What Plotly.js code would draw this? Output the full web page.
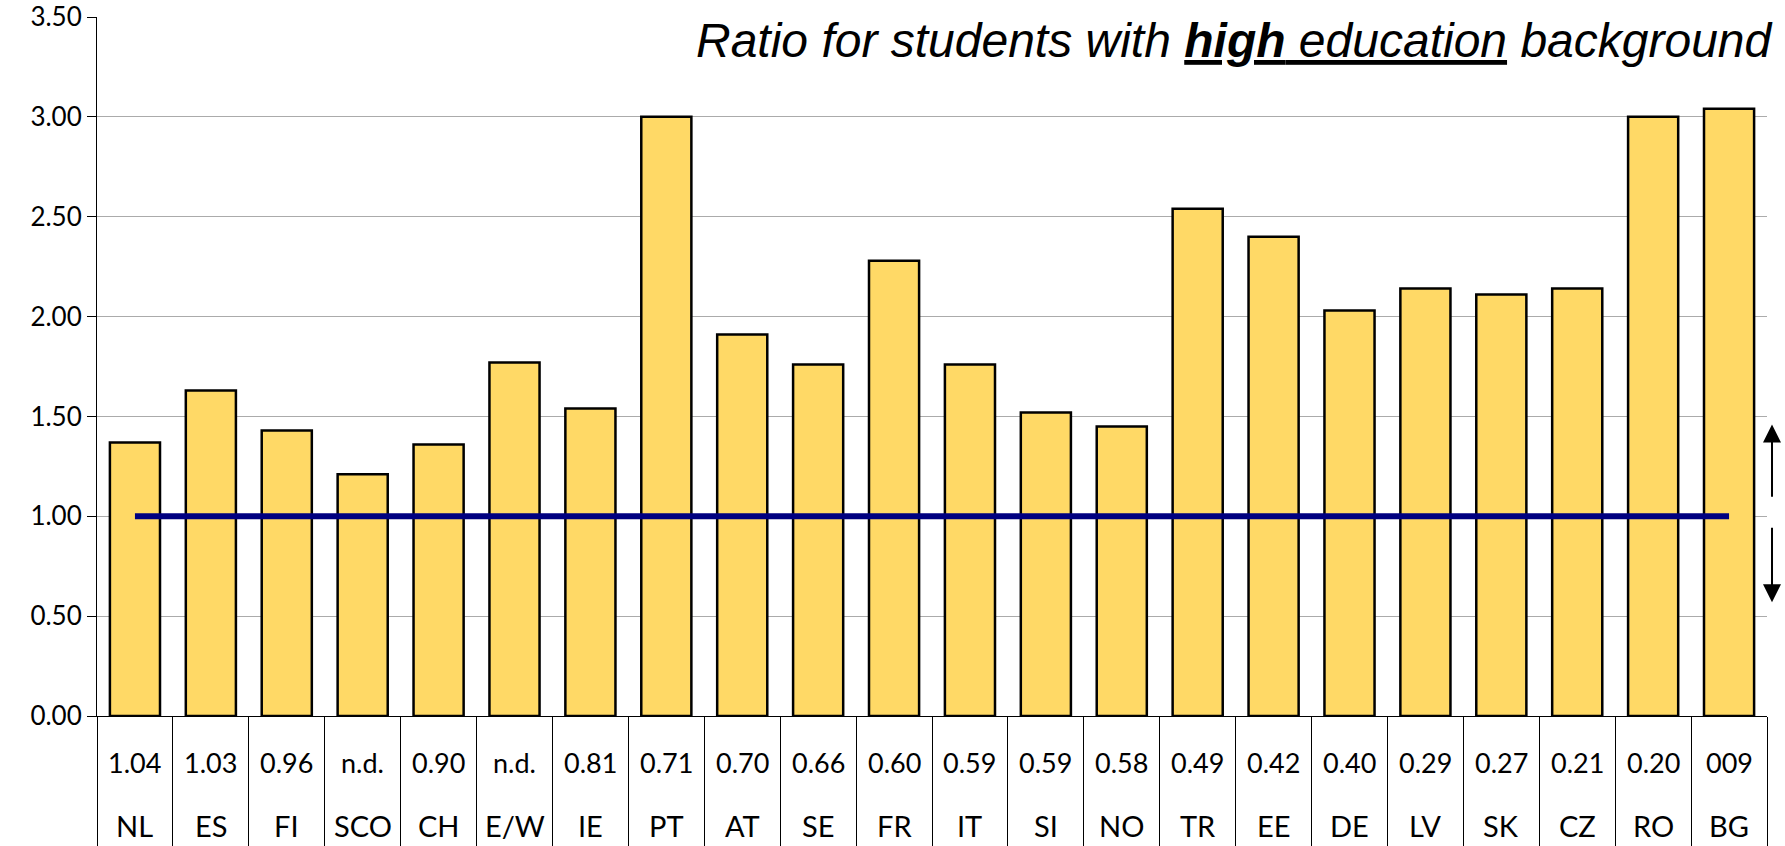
<!DOCTYPE html>
<html>
<head>
<meta charset="utf-8">
<script src="https://cdn.plot.ly/plotly-3.0.1.min.js"></script>
<style>
  html, body { margin: 0; padding: 0; background: #ffffff; }
  #chart { width: 1785px; height: 846px; }
</style>
</head>
<body>
<div id="chart"></div>
<script>
// Countries (x categories)
const countries = ["NL","ES","FI","SCO","CH","E/W","IE","PT","AT","SE","FR","IT","SI","NO","TR","EE","DE","LV","SK","CZ","RO","BG"];
// Ratio for students with high education background (bar heights)
const highRatio = [1.37,1.63,1.43,1.21,1.36,1.77,1.54,3.00,1.91,1.76,2.28,1.76,1.52,1.45,2.54,2.40,2.03,2.14,2.11,2.14,3.00,3.04];
// Values printed in the table row under the axis
const tableValues = ["1.04","1.03","0.96","n.d.","0.90","n.d.","0.81","0.71","0.70","0.66","0.60","0.59","0.59","0.58","0.49","0.42","0.40","0.29","0.27","0.21","0.20","009"];
// Reference level line
const refLevel = 1.00;
// Y axis ticks
const yTicks = [0, 0.5, 1.0, 1.5, 2.0, 2.5, 3.0, 3.5];
const titleText = "<i>Ratio for students with <b><u>high</u></b><u> education</u> background</i>";

const FONT = "Lato, 'Open Sans', sans-serif";

const barTrace = {
  type: "bar",
  x: countries,
  y: highRatio,
  marker: { color: "#FFD966", line: { color: "#000000", width: 2.5 } },
  hoverinfo: "skip"
};

const lineTrace = {
  type: "scatter",
  mode: "lines",
  x: [countries[0], countries[countries.length - 1]],
  y: [refLevel, refLevel],
  line: { color: "#000080", width: 6 },
  hoverinfo: "skip"
};

const annotations = [];
countries.forEach((c, i) => {
  annotations.push({
    x: c, xref: "x", y: -0.066, yref: "paper",
    text: tableValues[i], showarrow: false,
    xanchor: "center", yanchor: "middle",
    font: { family: FONT, size: 27, color: "#000000" }
  });
  annotations.push({
    x: c, xref: "x", y: -0.157, yref: "paper",
    text: c, showarrow: false,
    xanchor: "center", yanchor: "middle",
    font: { family: FONT, size: 29, color: "#000000" }
  });
});

// Title
annotations.push({
  x: 1.0045, xref: "paper", y: 0.966, yref: "paper",
  xanchor: "right", yanchor: "middle",
  text: titleText, showarrow: false,
  font: { family: "'Liberation Sans', Arial, sans-serif", size: 48, color: "#000000" }
});

// Arrows on the right side (up: above 1, down: below 1)
annotations.push({
  x: 1.003, xref: "paper", y: 1.46, yref: "y",
  ax: 0, axref: "pixel", ay: 1.09, ayref: "y",
  text: "", showarrow: true, arrowhead: 2, arrowsize: 1.8, arrowwidth: 2, arrowcolor: "#000000"
});
annotations.push({
  x: 1.003, xref: "paper", y: 0.57, yref: "y",
  ax: 0, axref: "pixel", ay: 0.95, ayref: "y",
  text: "", showarrow: true, arrowhead: 2, arrowsize: 1.8, arrowwidth: 2, arrowcolor: "#000000"
});

const layout = {
  width: 1785,
  height: 846,
  margin: { l: 97, r: 18, t: 17, b: 130, pad: 0 },
  paper_bgcolor: "#ffffff",
  plot_bgcolor: "#ffffff",
  showlegend: false,
  hovermode: false,
  bargap: 0.34,
  font: { family: FONT, color: "#000000" },
  xaxis: {
    type: "category",
    showline: true, linecolor: "#000000", linewidth: 1,
    ticks: "outside", tickson: "boundaries", ticklen: 130, tickwidth: 1, tickcolor: "#000000",
    showticklabels: false, showgrid: false, zeroline: false, fixedrange: true
  },
  yaxis: {
    range: [0, 3.5],
    tickvals: yTicks,
    tickformat: ".2f",
    showline: true, linecolor: "#000000", linewidth: 1,
    ticks: "outside", ticklen: 9, tickwidth: 1, tickcolor: "#000000",
    showgrid: true, gridcolor: "#ABABAB", gridwidth: 1,
    zeroline: false,
    tickfont: { family: FONT, size: 26, color: "#000000" },
    fixedrange: true
  },
  annotations: annotations
};

Plotly.newPlot("chart", [barTrace, lineTrace], layout, { displayModeBar: false, staticPlot: true });
</script>
</body>
</html>
